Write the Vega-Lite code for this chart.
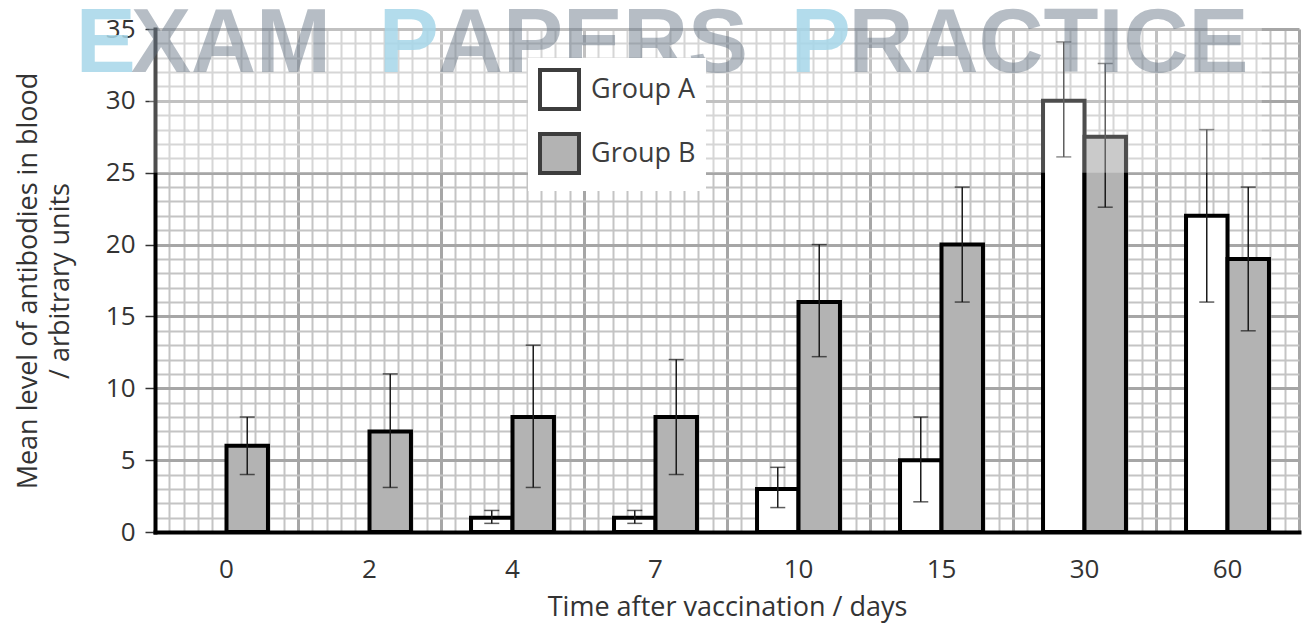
{
  "$schema": "https://vega.github.io/schema/vega-lite/v6.json",
  "width": 1144,
  "height": 503,
  "autosize": {"type": "none"},
  "padding": {"left": 155, "top": 29, "right": 6, "bottom": 96},
  "background": "white",
  "config": {
    "font": "Open Sans",
    "view": {"stroke": null},
    "axis": {"labelFont": "Open Sans", "titleFont": "Open Sans", "titleFontWeight": "normal", "labelOverlap": false}
  },
  "data": {
    "values": [
      {"day": "0", "group": "Group B", "value": 6, "low": 4, "high": 8},
      {"day": "2", "group": "Group B", "value": 7, "low": 3.1, "high": 11},
      {"day": "4", "group": "Group A", "value": 1, "low": 0.6, "high": 1.5},
      {"day": "4", "group": "Group B", "value": 8, "low": 3.1, "high": 13},
      {"day": "7", "group": "Group A", "value": 1, "low": 0.6, "high": 1.5},
      {"day": "7", "group": "Group B", "value": 8, "low": 4, "high": 12},
      {"day": "10", "group": "Group A", "value": 3, "low": 1.7, "high": 4.5},
      {"day": "10", "group": "Group B", "value": 16, "low": 12.2, "high": 20},
      {"day": "15", "group": "Group A", "value": 5, "low": 2.1, "high": 8},
      {"day": "15", "group": "Group B", "value": 20, "low": 16, "high": 24},
      {"day": "30", "group": "Group A", "value": 30, "low": 26.1, "high": 34.1},
      {"day": "30", "group": "Group B", "value": 27.5, "low": 22.6, "high": 32.6},
      {"day": "60", "group": "Group A", "value": 22, "low": 16, "high": 28},
      {"day": "60", "group": "Group B", "value": 19, "low": 14, "high": 24}
    ]
  },
  "layer": [
    {
      "data": {"values": [{}]},
      "layer": [
        {
          "mark": {"type": "rect", "color": "white", "opacity": 0},
          "encoding": {
            "x": {
              "datum": 0, "type": "quantitative",
              "scale": {"domain": [0, 80], "nice": false, "zero": false},
              "axis": {
                "orient": "top", "grid": true, "labels": false, "ticks": false, "domain": false,
                "title": null, "tickCount": 80,
                "gridColor": {"condition": {"test": "datum.value % 10 === 0", "value": "#a6a6a6"}, "value": "#c4c4c4"},
                "gridWidth": {"condition": {"test": "datum.value % 10 === 0", "value": 3}, "value": 2}
              }
            },
            "x2": {"datum": 1},
            "y": {
              "datum": 0, "type": "quantitative",
              "scale": {"domain": [0, 35], "nice": false, "zero": false},
              "axis": {
                "orient": "right", "grid": true, "labels": false, "ticks": false, "domain": false,
                "title": null, "tickCount": 35,
                "gridColor": {"condition": {"test": "datum.value % 5 === 0", "value": "#a6a6a6"}, "value": "#c4c4c4"},
                "gridWidth": {"condition": {"test": "datum.value % 5 === 0", "value": 3}, "value": 2}
              }
            },
            "y2": {"datum": 1}
          }
        }
      ]
    },
    {
      "layer": [
        {
          "mark": {"type": "bar", "stroke": "black", "strokeWidth": 4},
          "encoding": {
            "x": {
              "field": "day", "type": "nominal",
              "sort": ["0", "2", "4", "7", "10", "15", "30", "60"],
              "scale": {"paddingInner": 0.42, "paddingOuter": 0.21},
              "axis": {
                "title": "Time after vaccination / days",
                "labelAngle": 0, "ticks": false, "tickSize": 0,
                "labelPadding": 24, "labelFontSize": 26, "labelColor": "#333333",
                "titleFontSize": 27, "titleColor": "#333333", "titlePadding": 12,
                "domainColor": "black", "domainWidth": 4, "domainCap": "square",
                "grid": false, "orient": "bottom"
              }
            },
            "xOffset": {
              "field": "group", "type": "nominal",
              "scale": {"domain": ["Group A", "Group B"], "paddingInner": 0, "paddingOuter": 0}
            },
            "y": {
              "field": "value", "type": "quantitative",
              "scale": {"domain": [0, 35], "nice": false},
              "axis": {
                "orient": "left",
                "title": ["Mean level of antibodies in blood", "/ arbitrary units"],
                "tickCount": 7,
                "labelOverlap": false,
                "labelFontSize": 26, "labelColor": "#333333", "labelPadding": 10,
                "tickSize": 10, "tickWidth": 1.5, "tickColor": "#333333",
                "grid": false,
                "domainColor": "black", "domainWidth": 4, "domainCap": "square",
                "titleFontSize": 27, "titleColor": "#333333", "titlePadding": 31, "titleLineHeight": 32
              }
            },
            "fill": {
              "field": "group", "type": "nominal",
              "scale": {"domain": ["Group A", "Group B"], "range": ["#ffffff", "#b3b3b3"]},
              "legend": {
                "title": null, "orient": "none", "legendX": 373, "legendY": 29,
                "symbolType": "square", "symbolSize": 1520, "symbolStrokeWidth": 4,
                "symbolStrokeColor": "#3d3d3d",
                "labelFontSize": 27, "labelColor": "#3d3d3d", "labelFont": "Open Sans",
                "labelOffset": 10, "rowPadding": 9, "padding": 10,
                "fillColor": "white"
              }
            }
          }
        },
        {
          "mark": {"type": "rule", "color": "#1a1a1a", "strokeWidth": 1.5},
          "encoding": {
            "x": {"field": "day", "type": "nominal", "sort": ["0", "2", "4", "7", "10", "15", "30", "60"]},
            "xOffset": {"field": "group", "type": "nominal"},
            "y": {"field": "low", "type": "quantitative"},
            "y2": {"field": "high"}
          }
        },
        {
          "mark": {"type": "tick", "color": "#1a1a1a", "thickness": 1.5, "size": 15},
          "encoding": {
            "x": {"field": "day", "type": "nominal", "sort": ["0", "2", "4", "7", "10", "15", "30", "60"]},
            "xOffset": {"field": "group", "type": "nominal"},
            "y": {"field": "low", "type": "quantitative"}
          }
        },
        {
          "mark": {"type": "tick", "color": "#1a1a1a", "thickness": 1.5, "size": 15},
          "encoding": {
            "x": {"field": "day", "type": "nominal", "sort": ["0", "2", "4", "7", "10", "15", "30", "60"]},
            "xOffset": {"field": "group", "type": "nominal"},
            "y": {"field": "high", "type": "quantitative"}
          }
        }
      ]
    },
    {
      "data": {"values": [{}]},
      "layer": [
        {
          "mark": {"type": "rect", "color": "white", "opacity": 0.3},
          "encoding": {
            "x": {"datum": -0.4, "type": "quantitative", "scale": {"domain": [0, 80], "nice": false, "zero": false}, "axis": null},
            "x2": {"datum": 77.4},
            "y": {"datum": 25, "type": "quantitative", "scale": {"domain": [0, 35], "nice": false, "zero": false}, "axis": null},
            "y2": {"datum": 36.8}
          }
        },
        {
          "mark": {"type": "text", "text": "E", "font": "Liberation Sans", "fontWeight": "bold", "fontSize": 90, "align": "left", "baseline": "alphabetic", "color": "#a6d7e9", "opacity": 0.85},
          "encoding": {"x": {"datum": -5.55, "type": "quantitative"}, "y": {"datum": 32, "type": "quantitative"}}
        },
        {
          "mark": {"type": "text", "text": "XAM", "font": "Liberation Sans", "fontWeight": "bold", "fontSize": 90, "align": "left", "baseline": "alphabetic", "color": "#5f6f80", "opacity": 0.45},
          "encoding": {"x": {"datum": -1.68, "type": "quantitative"}, "y": {"datum": 32, "type": "quantitative"}}
        },
        {
          "mark": {"type": "text", "text": "P", "font": "Liberation Sans", "fontWeight": "bold", "fontSize": 90, "align": "left", "baseline": "alphabetic", "color": "#a6d7e9", "opacity": 0.85},
          "encoding": {"x": {"datum": 15.64, "type": "quantitative"}, "y": {"datum": 32, "type": "quantitative"}}
        },
        {
          "mark": {"type": "text", "text": "APERS", "font": "Liberation Sans", "fontWeight": "bold", "fontSize": 90, "align": "left", "baseline": "alphabetic", "color": "#5f6f80", "opacity": 0.45},
          "encoding": {"x": {"datum": 19.79, "type": "quantitative"}, "y": {"datum": 32, "type": "quantitative"}}
        },
        {
          "mark": {"type": "text", "text": "P", "font": "Liberation Sans", "fontWeight": "bold", "fontSize": 90, "align": "left", "baseline": "alphabetic", "color": "#a6d7e9", "opacity": 0.85},
          "encoding": {"x": {"datum": 44.45, "type": "quantitative"}, "y": {"datum": 32, "type": "quantitative"}}
        },
        {
          "mark": {"type": "text", "text": "RACTICE", "font": "Liberation Sans", "fontWeight": "bold", "fontSize": 90, "align": "left", "baseline": "alphabetic", "color": "#5f6f80", "opacity": 0.45},
          "encoding": {"x": {"datum": 48.5, "type": "quantitative"}, "y": {"datum": 32, "type": "quantitative"}}
        }
      ]
    }
  ],
  "resolve": {"scale": {"x": "independent", "y": "independent"}}
}
